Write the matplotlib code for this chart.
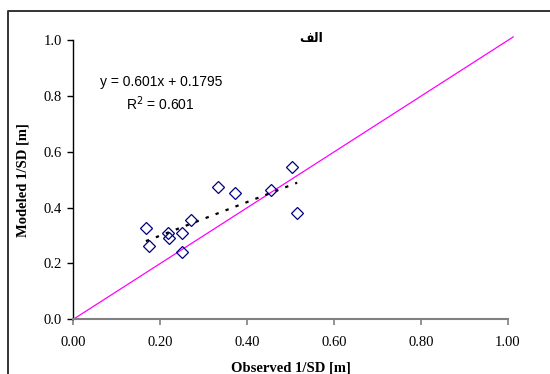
import matplotlib
matplotlib.use("Agg")
import matplotlib.pyplot as plt
from matplotlib.lines import Line2D
import numpy as np

# Observed vs modeled 1/SD values
observed = [0.167, 0.175, 0.217, 0.221, 0.251, 0.249, 0.271, 0.332, 0.371, 0.455, 0.515, 0.502]
modeled = [0.326, 0.262, 0.310, 0.292, 0.310, 0.240, 0.356, 0.473, 0.452, 0.463, 0.380, 0.546]

slope = 0.601
intercept = 0.1795
r_squared = 0.601

x_ticks = [0.0, 0.2, 0.4, 0.6, 0.8, 1.0]
x_tick_labels = ["0.00", "0.20", "0.40", "0.60", "0.80", "1.00"]
y_ticks = [0.0, 0.2, 0.4, 0.6, 0.8, 1.0]
y_tick_labels = ["0.0", "0.2", "0.4", "0.6", "0.8", "1.0"]

title_text = "\uFED2\uFEDF\uFE8D"  # "الف" in shaped presentation forms, visual order

serif = ["Liberation Serif", "DejaVu Serif"]
sans = ["Liberation Sans", "DejaVu Sans"]

fig = plt.figure(figsize=(5.5, 3.74), dpi=100)
ax = fig.add_axes([0.1333, 0.1463, 0.7903, 0.7467])

# 1:1 reference line
ax.plot([0, 1.012], [0, 1.011], color="#FF00FF", lw=0.9, clip_on=False, zorder=2)

# Linear trendline from the fitted equation
xt = np.array([min(observed), max(observed)])
ax.plot(xt, slope * xt + intercept, color="black", lw=1.6,
        ls=(0, (1.5, 3.3)), zorder=3)

ax.plot(observed, modeled, ls="none", marker="D", markersize=6,
        markerfacecolor="none", markeredgecolor="#000080", markeredgewidth=0.9,
        zorder=4, clip_on=False)

ax.set_xlim(0, 1.0)
ax.set_ylim(0, 1.0)
ax.set_xticks(x_ticks)
ax.set_xticklabels(x_tick_labels, fontfamily=serif, fontsize=10.5)
ax.set_yticks(y_ticks)
ax.set_yticklabels(y_tick_labels, fontfamily=serif, fontsize=10.5)

for s in ("top", "right"):
    ax.spines[s].set_visible(False)
ax.spines["left"].set_color("black")
ax.spines["left"].set_linewidth(1.0)
ax.spines["bottom"].set_color("#808080")
ax.spines["bottom"].set_linewidth(1.5)
ax.tick_params(axis="x", direction="out", length=4, width=1.2, color="#808080", pad=8)
ax.tick_params(axis="y", direction="out", length=4, width=1.0, color="black", pad=4)

ax.set_xlabel("Observed 1/SD [m]", fontfamily=serif, fontsize=10.5, fontweight="bold", labelpad=9)
ax.set_ylabel("Modeled 1/SD [m]", fontfamily=serif, fontsize=10.5, fontweight="bold", labelpad=10)

fig.text(311 / 550, 1 - 38.5 / 374, title_text, family=["DejaVu Sans"], fontsize=9,
         fontweight="bold", ha="center", va="center")

fig.text(161 / 550, 1 - 82 / 374, "y = 0.601x + 0.1795", family=sans, fontsize=10,
         ha="center", va="center")
fig.text(160 / 550, 1 - 104 / 374, r"R$^2$ = 0.601", family=sans, fontsize=10,
         ha="center", va="center")

# Chart area border (left and top edges visible)
border = Line2D([7.5 / 550, 7.5 / 550, 1.0], [0.0, 1 - 11 / 374, 1 - 11 / 374],
                transform=fig.transFigure, color="#333333", lw=1.4)
fig.add_artist(border)

fig.savefig("out.png", dpi=100)
